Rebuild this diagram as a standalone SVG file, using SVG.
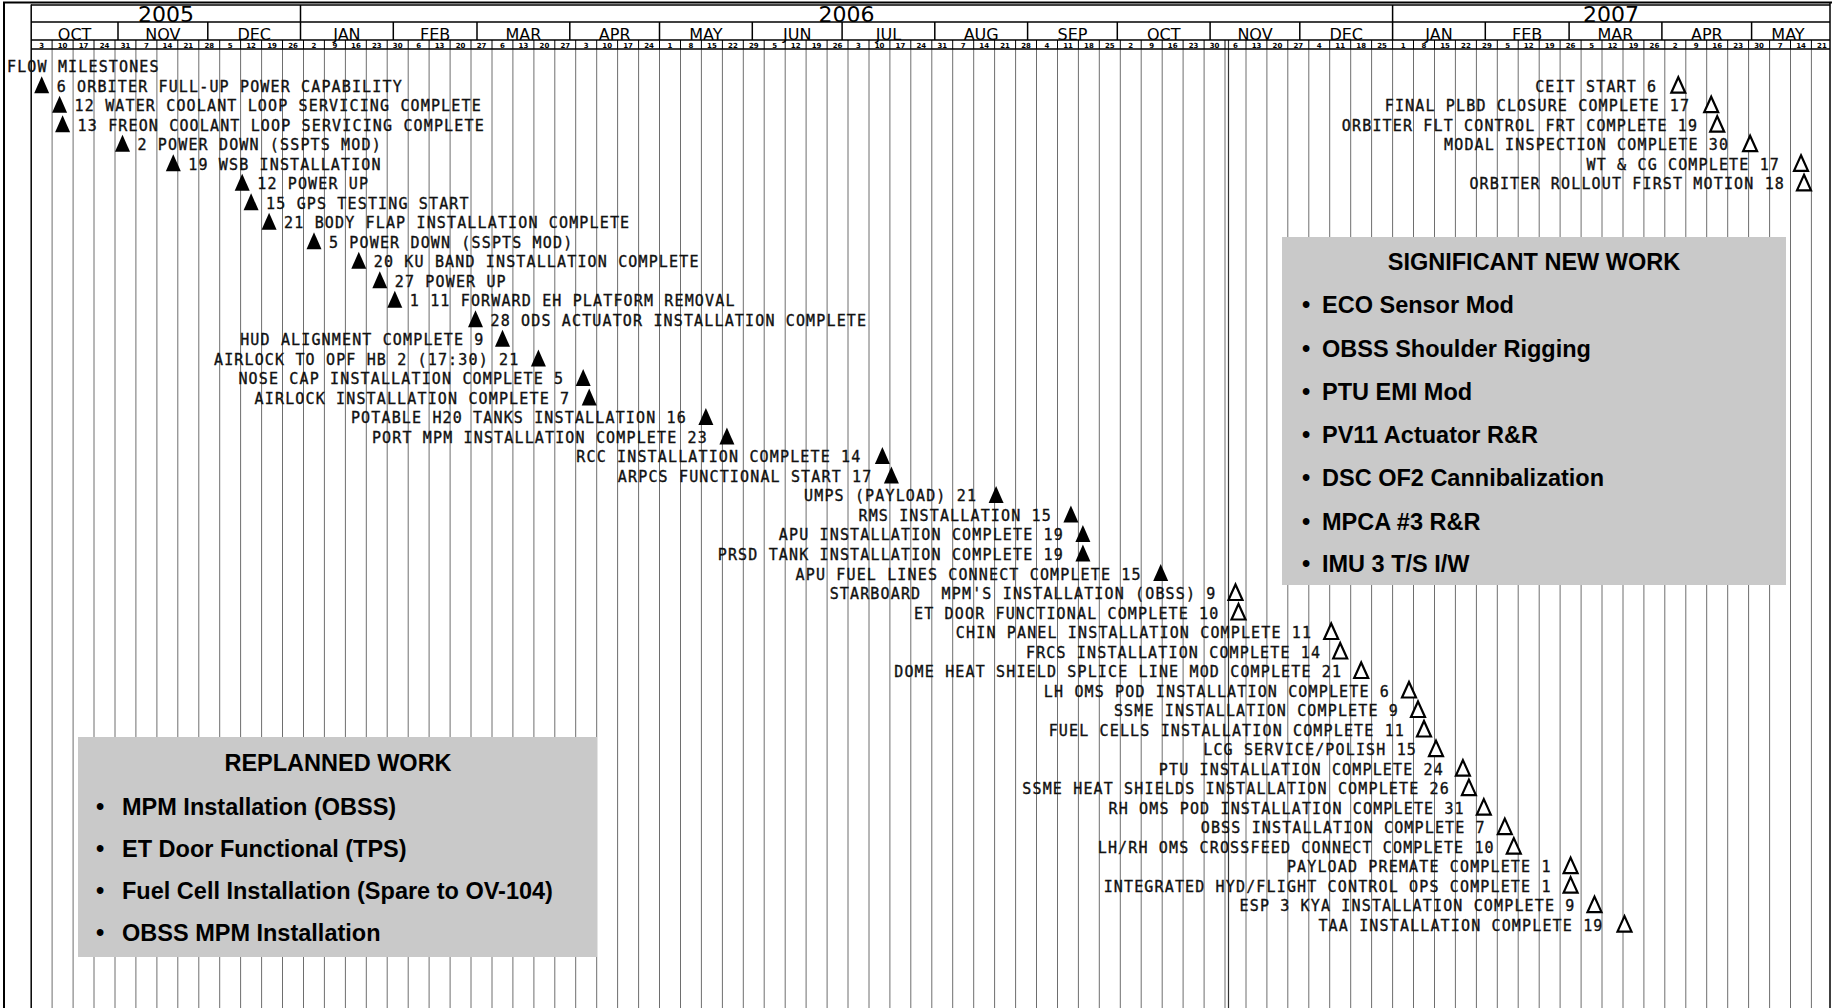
<svg xmlns="http://www.w3.org/2000/svg" xmlns:xlink="http://www.w3.org/1999/xlink" width="1834" height="1008" viewBox="0 0 1834 1008">
<style>
.ms{font-family:"DejaVu Sans Mono","Liberation Mono",monospace;font-size:15px;letter-spacing:1.15px;fill:#111;stroke:#111;stroke-width:0.35;white-space:pre}
.r{text-anchor:end}
.yr{font-family:"DejaVu Sans","Liberation Sans",sans-serif;font-size:22px;fill:#000;text-anchor:middle}
.mo{font-family:"DejaVu Sans","Liberation Sans",sans-serif;font-size:16px;fill:#000;text-anchor:middle}
.wk{font-family:"DejaVu Sans","Liberation Sans",sans-serif;font-size:7px;font-weight:bold;fill:#000;text-anchor:middle}
.bx{fill:#c9c9c9}
.bt{font-family:"Liberation Sans",Arial,sans-serif;font-size:23.5px;font-weight:bold;fill:#000}
.hd{stroke:#000;stroke-width:1.5;fill:none}
</style>
<defs>
<path id="tf" d="M0,-10 L7.5,7 L-7.5,7 Z" fill="#000"/>
<path id="th" d="M0,-9 L7,6.5 L-7,6.5 Z" fill="#fff" stroke="#000" stroke-width="2.2" stroke-linejoin="miter"/>
<path id="grid" d="M52.1 40V1008M73.1 40V1008M94 40V1008M115 40V1008M135.9 40V1008M156.9 40V1008M177.8 40V1008M198.8 40V1008M219.7 40V1008M240.6 40V1008M261.6 40V1008M282.5 40V1008M303.5 40V1008M324.4 40V1008M345.4 40V1008M366.3 40V1008M387.2 40V1008M408.2 40V1008M429.1 40V1008M450.1 40V1008M471 40V1008M492 40V1008M512.9 40V1008M533.9 40V1008M554.8 40V1008M575.7 40V1008M596.7 40V1008M617.6 40V1008M638.6 40V1008M659.5 40V1008M680.5 40V1008M701.4 40V1008M722.4 40V1008M743.3 40V1008M764.2 40V1008M785.2 40V1008M806.1 40V1008M827.1 40V1008M848 40V1008M869 40V1008M889.9 40V1008M910.8 40V1008M931.8 40V1008M952.7 40V1008M973.7 40V1008M994.6 40V1008M1015.6 40V1008M1036.5 40V1008M1057.5 40V1008M1078.4 40V1008M1099.3 40V1008M1120.3 40V1008M1141.2 40V1008M1162.2 40V1008M1183.1 40V1008M1204.1 40V1008M1225 40V1008M1246 40V1008M1266.9 40V1008M1287.8 40V1008M1308.8 40V1008M1329.7 40V1008M1350.7 40V1008M1371.6 40V1008M1392.6 40V1008M1413.5 40V1008M1434.5 40V1008M1455.4 40V1008M1476.4 40V1008M1497.3 40V1008M1518.2 40V1008M1539.2 40V1008M1560.1 40V1008M1581.1 40V1008M1602 40V1008M1623 40V1008M1643.9 40V1008M1664.8 40V1008M1685.8 40V1008M1706.7 40V1008M1727.7 40V1008M1748.6 40V1008M1769.6 40V1008M1790.5 40V1008M1811.4 40V1008"/>
<clipPath id="wkrow"><rect x="0" y="40" width="1834" height="9"/></clipPath>
<clipPath id="body"><rect x="0" y="49" width="1834" height="959"/></clipPath>
</defs>
<rect width="1834" height="1008" fill="#fff"/>

<g id="grid-lines">
<use href="#grid" stroke="#6e6e6e" stroke-width="1" clip-path="url(#body)"/>
<use href="#grid" stroke="#000" stroke-width="1" clip-path="url(#wkrow)"/>
<line x1="1228.5" y1="40" x2="1228.5" y2="1008" stroke="#333" stroke-width="1.2"/>
</g>

<g id="frame" class="hd">
<line x1="3" y1="2.5" x2="1832" y2="2.5" stroke-width="2"/>
<line x1="4" y1="2" x2="4" y2="1008" stroke-width="2"/>
<line x1="1830" y1="2" x2="1830" y2="1008"/>
<line x1="31.2" y1="4.5" x2="31.2" y2="1008"/>
<line x1="31" y1="5" x2="1830" y2="5"/>
<line x1="31" y1="22" x2="1830" y2="22"/>
<line x1="31" y1="40" x2="1830" y2="40"/>
<line x1="31" y1="49" x2="1830" y2="49"/>
<path d="M300.5 5V40M1392.6 5V40M118 22V40M207.8 22V40M393.3 22V40M477 22V40M569.8 22V40M659.5 22V40M752.3 22V40M842.1 22V40M934.8 22V40M1027.6 22V40M1117.3 22V40M1210.1 22V40M1299.8 22V40M1485.3 22V40M1569.1 22V40M1661.9 22V40M1751.6 22V40"/>
</g>

<g id="years">
<text class="yr" x="166" y="21.5">2005</text>
<text class="yr" x="846.5" y="21.5">2006</text>
<text class="yr" x="1611" y="21.5">2007</text>
</g>

<g id="months">
<text class="mo" x="74.6" y="39.5">OCT</text>
<text class="mo" x="162.9" y="39.5">NOV</text>
<text class="mo" x="254.2" y="39.5">DEC</text>
<text class="mo" x="346.9" y="39.5">JAN</text>
<text class="mo" x="435.2" y="39.5">FEB</text>
<text class="mo" x="523.4" y="39.5">MAR</text>
<text class="mo" x="614.7" y="39.5">APR</text>
<text class="mo" x="705.9" y="39.5">MAY</text>
<text class="mo" x="797.2" y="39.5">JUN</text>
<text class="mo" x="888.5" y="39.5">JUL</text>
<text class="mo" x="981.2" y="39.5">AUG</text>
<text class="mo" x="1072.5" y="39.5">SEP</text>
<text class="mo" x="1163.7" y="39.5">OCT</text>
<text class="mo" x="1255" y="39.5">NOV</text>
<text class="mo" x="1346.2" y="39.5">DEC</text>
<text class="mo" x="1439" y="39.5">JAN</text>
<text class="mo" x="1527.2" y="39.5">FEB</text>
<text class="mo" x="1615.5" y="39.5">MAR</text>
<text class="mo" x="1706.8" y="39.5">APR</text>
<text class="mo" x="1788" y="39.5">MAY</text>
</g>

<g id="weeks">
<text class="wk" x="41.7" y="47.5">3</text><text class="wk" x="62.6" y="47.5">10</text><text class="wk" x="83.6" y="47.5">17</text><text class="wk" x="104.5" y="47.5">24</text><text class="wk" x="125.5" y="47.5">31</text>
<text class="wk" x="146.4" y="47.5">7</text><text class="wk" x="167.4" y="47.5">14</text><text class="wk" x="188.3" y="47.5">21</text><text class="wk" x="209.3" y="47.5">28</text>
<text class="wk" x="230.2" y="47.5">5</text><text class="wk" x="251.1" y="47.5">12</text><text class="wk" x="272.1" y="47.5">19</text><text class="wk" x="293" y="47.5">26</text>
<text class="wk" x="314" y="47.5">2</text><text class="wk" x="334.9" y="47.5">9</text><text class="wk" x="355.9" y="47.5">16</text><text class="wk" x="376.8" y="47.5">23</text><text class="wk" x="397.7" y="47.5">30</text>
<text class="wk" x="418.7" y="47.5">6</text><text class="wk" x="439.6" y="47.5">13</text><text class="wk" x="460.6" y="47.5">20</text><text class="wk" x="481.5" y="47.5">27</text>
<text class="wk" x="502.5" y="47.5">6</text><text class="wk" x="523.4" y="47.5">13</text><text class="wk" x="544.4" y="47.5">20</text><text class="wk" x="565.3" y="47.5">27</text>
<text class="wk" x="586.2" y="47.5">3</text><text class="wk" x="607.2" y="47.5">10</text><text class="wk" x="628.1" y="47.5">17</text><text class="wk" x="649.1" y="47.5">24</text>
<text class="wk" x="670" y="47.5">1</text><text class="wk" x="691" y="47.5">8</text><text class="wk" x="711.9" y="47.5">15</text><text class="wk" x="732.9" y="47.5">22</text><text class="wk" x="753.8" y="47.5">29</text>
<text class="wk" x="774.7" y="47.5">5</text><text class="wk" x="795.7" y="47.5">12</text><text class="wk" x="816.6" y="47.5">19</text><text class="wk" x="837.6" y="47.5">26</text>
<text class="wk" x="858.5" y="47.5">3</text><text class="wk" x="879.5" y="47.5">10</text><text class="wk" x="900.4" y="47.5">17</text><text class="wk" x="921.3" y="47.5">24</text><text class="wk" x="942.3" y="47.5">31</text>
<text class="wk" x="963.2" y="47.5">7</text><text class="wk" x="984.2" y="47.5">14</text><text class="wk" x="1005.1" y="47.5">21</text><text class="wk" x="1026.1" y="47.5">28</text>
<text class="wk" x="1047" y="47.5">4</text><text class="wk" x="1068" y="47.5">11</text><text class="wk" x="1088.9" y="47.5">18</text><text class="wk" x="1109.8" y="47.5">25</text>
<text class="wk" x="1130.8" y="47.5">2</text><text class="wk" x="1151.7" y="47.5">9</text><text class="wk" x="1172.7" y="47.5">16</text><text class="wk" x="1193.6" y="47.5">23</text><text class="wk" x="1214.6" y="47.5">30</text>
<text class="wk" x="1235.5" y="47.5">6</text><text class="wk" x="1256.5" y="47.5">13</text><text class="wk" x="1277.4" y="47.5">20</text><text class="wk" x="1298.3" y="47.5">27</text>
<text class="wk" x="1319.3" y="47.5">4</text><text class="wk" x="1340.2" y="47.5">11</text><text class="wk" x="1361.2" y="47.5">18</text><text class="wk" x="1382.1" y="47.5">25</text>
<text class="wk" x="1403.1" y="47.5">1</text><text class="wk" x="1424" y="47.5">8</text><text class="wk" x="1445" y="47.5">15</text><text class="wk" x="1465.9" y="47.5">22</text><text class="wk" x="1486.9" y="47.5">29</text>
<text class="wk" x="1507.8" y="47.5">5</text><text class="wk" x="1528.7" y="47.5">12</text><text class="wk" x="1549.7" y="47.5">19</text><text class="wk" x="1570.6" y="47.5">26</text>
<text class="wk" x="1591.6" y="47.5">5</text><text class="wk" x="1612.5" y="47.5">12</text><text class="wk" x="1633.5" y="47.5">19</text><text class="wk" x="1654.4" y="47.5">26</text>
<text class="wk" x="1675.3" y="47.5">2</text><text class="wk" x="1696.3" y="47.5">9</text><text class="wk" x="1717.2" y="47.5">16</text><text class="wk" x="1738.2" y="47.5">23</text><text class="wk" x="1759.1" y="47.5">30</text>
<text class="wk" x="1780.1" y="47.5">7</text><text class="wk" x="1801" y="47.5">14</text><text class="wk" x="1821.9" y="47.5">21</text>
</g>

<g id="box-significant">
<rect class="bx" x="1282" y="237" width="504" height="348"/>
<text class="bt" x="1534" y="270" text-anchor="middle">SIGNIFICANT NEW WORK</text>
<text class="bt" x="1302" y="313">•</text><text class="bt" x="1322" y="313">ECO Sensor Mod</text>
<text class="bt" x="1302" y="356.5">•</text><text class="bt" x="1322" y="356.5">OBSS Shoulder Rigging</text>
<text class="bt" x="1302" y="400">•</text><text class="bt" x="1322" y="400">PTU EMI Mod</text>
<text class="bt" x="1302" y="443">•</text><text class="bt" x="1322" y="443">PV11 Actuator R&amp;R</text>
<text class="bt" x="1302" y="486">•</text><text class="bt" x="1322" y="486">DSC OF2 Cannibalization</text>
<text class="bt" x="1302" y="529.5">•</text><text class="bt" x="1322" y="529.5">MPCA #3 R&amp;R</text>
<text class="bt" x="1302" y="572">•</text><text class="bt" x="1322" y="572">IMU 3 T/S I/W</text>
</g>

<g id="box-replanned">
<rect class="bx" x="78" y="737" width="519" height="220"/>
<text class="bt" x="338" y="771" text-anchor="middle">REPLANNED WORK</text>
<text class="bt" x="96" y="815">•</text><text class="bt" x="122" y="815">MPM Installation (OBSS)</text>
<text class="bt" x="96" y="857">•</text><text class="bt" x="122" y="857">ET Door Functional (TPS)</text>
<text class="bt" x="96" y="899">•</text><text class="bt" x="122" y="899">Fuel Cell Installation (Spare to OV-104)</text>
<text class="bt" x="96" y="941">•</text><text class="bt" x="122" y="941">OBSS MPM Installation</text>
</g>

<g id="flow-title"><text class="ms" x="7" y="72">FLOW MILESTONES</text></g>

<g id="m01" transform="translate(41.7,86.2)"><use href="#tf"/><text class="ms" x="15" y="5.5">6 ORBITER FULL-UP POWER CAPABILITY</text></g>
<g id="m02" transform="translate(59.6,105.7)"><use href="#tf"/><text class="ms" x="15" y="5.5">12 WATER COOLANT LOOP SERVICING COMPLETE</text></g>
<g id="m03" transform="translate(62.6,125.2)"><use href="#tf"/><text class="ms" x="15" y="5.5">13 FREON COOLANT LOOP SERVICING COMPLETE</text></g>
<g id="m04" transform="translate(122.5,144.7)"><use href="#tf"/><text class="ms" x="15" y="5.5">2 POWER DOWN (SSPTS MOD)</text></g>
<g id="m05" transform="translate(173.3,164.3)"><use href="#tf"/><text class="ms" x="15" y="5.5">19 WSB INSTALLATION</text></g>
<g id="m06" transform="translate(242.2,183.8)"><use href="#tf"/><text class="ms" x="15" y="5.5">12 POWER UP</text></g>
<g id="m07" transform="translate(251.1,203.3)"><use href="#tf"/><text class="ms" x="15" y="5.5">15 GPS TESTING START</text></g>
<g id="m08" transform="translate(269.1,222.8)"><use href="#tf"/><text class="ms" x="15" y="5.5">21 BODY FLAP INSTALLATION COMPLETE</text></g>
<g id="m09" transform="translate(314,242.3)"><use href="#tf"/><text class="ms" x="15" y="5.5">5 POWER DOWN (SSPTS MOD)</text></g>
<g id="m10" transform="translate(358.8,261.8)"><use href="#tf"/><text class="ms" x="15" y="5.5">20 KU BAND INSTALLATION COMPLETE</text></g>
<g id="m11" transform="translate(379.8,281.3)"><use href="#tf"/><text class="ms" x="15" y="5.5">27 POWER UP</text></g>
<g id="m12" transform="translate(394.8,300.8)"><use href="#tf"/><text class="ms" x="15" y="5.5">1 11 FORWARD EH PLATFORM REMOVAL</text></g>
<g id="m13" transform="translate(475.5,320.3)"><use href="#tf"/><text class="ms" x="15" y="5.5">28 ODS ACTUATOR INSTALLATION COMPLETE</text></g>
<g id="m14" transform="translate(502.5,339.8)"><use href="#tf"/><text class="ms r" x="-18" y="5.5">HUD ALIGNMENT COMPLETE 9</text></g>
<g id="m15" transform="translate(538.4,359.4)"><use href="#tf"/><text class="ms r" x="-19" y="5.5">AIRLOCK TO OPF HB 2 (17:30) 21</text></g>
<g id="m16" transform="translate(583.2,378.9)"><use href="#tf"/><text class="ms r" x="-19" y="5.5">NOSE CAP INSTALLATION COMPLETE 5</text></g>
<g id="m17" transform="translate(589.2,398.4)"><use href="#tf"/><text class="ms r" x="-19" y="5.5">AIRLOCK INSTALLATION COMPLETE 7</text></g>
<g id="m18" transform="translate(705.9,417.9)"><use href="#tf"/><text class="ms r" x="-19" y="5.5">POTABLE H20 TANKS INSTALLATION 16</text></g>
<g id="m19" transform="translate(726.9,437.4)"><use href="#tf"/><text class="ms r" x="-19" y="5.5">PORT MPM INSTALLATION COMPLETE 23</text></g>
<g id="m20" transform="translate(882.4,456.9)"><use href="#tf"/><text class="ms r" x="-21" y="5.5">RCC INSTALLATION COMPLETE 14</text></g>
<g id="m21" transform="translate(891.4,476.4)"><use href="#tf"/><text class="ms r" x="-19" y="5.5">ARPCS FUNCTIONAL START 17</text></g>
<g id="m22" transform="translate(996.1,495.9)"><use href="#tf"/><text class="ms r" x="-19" y="5.5">UMPS (PAYLOAD) 21</text></g>
<g id="m23" transform="translate(1070.9,515.4)"><use href="#tf"/><text class="ms r" x="-19" y="5.5">RMS INSTALLATION 15</text></g>
<g id="m24" transform="translate(1082.9,534.9)"><use href="#tf"/><text class="ms r" x="-19" y="5.5">APU INSTALLATION COMPLETE 19</text></g>
<g id="m25" transform="translate(1082.9,554.5)"><use href="#tf"/><text class="ms r" x="-19" y="5.5">PRSD TANK INSTALLATION COMPLETE 19</text></g>
<g id="m26" transform="translate(1160.7,574)"><use href="#tf"/><text class="ms r" x="-19" y="5.5">APU FUEL LINES CONNECT COMPLETE 15</text></g>
<g id="m27" transform="translate(1235.5,593.5)"><use href="#th"/><text class="ms r" x="-19" y="5.5">STARBOARD  MPM'S INSTALLATION (OBSS) 9</text></g>
<g id="m28" transform="translate(1238.5,613)"><use href="#th"/><text class="ms r" x="-19" y="5.5">ET DOOR FUNCTIONAL COMPLETE 10</text></g>
<g id="m29" transform="translate(1331.2,632.5)"><use href="#th"/><text class="ms r" x="-19" y="5.5">CHIN PANEL INSTALLATION COMPLETE 11</text></g>
<g id="m30" transform="translate(1340.2,652)"><use href="#th"/><text class="ms r" x="-19" y="5.5">FRCS INSTALLATION COMPLETE 14</text></g>
<g id="m31" transform="translate(1361.2,671.5)"><use href="#th"/><text class="ms r" x="-19" y="5.5">DOME HEAT SHIELD SPLICE LINE MOD COMPLETE 21</text></g>
<g id="m32" transform="translate(1409,691)"><use href="#th"/><text class="ms r" x="-19" y="5.5">LH OMS POD INSTALLATION COMPLETE 6</text></g>
<g id="m33" transform="translate(1418,710.5)"><use href="#th"/><text class="ms r" x="-19" y="5.5">SSME INSTALLATION COMPLETE 9</text></g>
<g id="m34" transform="translate(1424,730)"><use href="#th"/><text class="ms r" x="-19" y="5.5">FUEL CELLS INSTALLATION COMPLETE 11</text></g>
<g id="m35" transform="translate(1436,749.6)"><use href="#th"/><text class="ms r" x="-19" y="5.5">LCG SERVICE/POLISH 15</text></g>
<g id="m36" transform="translate(1462.9,769.1)"><use href="#th"/><text class="ms r" x="-19" y="5.5">PTU INSTALLATION COMPLETE 24</text></g>
<g id="m37" transform="translate(1468.9,788.6)"><use href="#th"/><text class="ms r" x="-19" y="5.5">SSME HEAT SHIELDS INSTALLATION COMPLETE 26</text></g>
<g id="m38" transform="translate(1483.8,808.1)"><use href="#th"/><text class="ms r" x="-19" y="5.5">RH OMS POD INSTALLATION COMPLETE 31</text></g>
<g id="m39" transform="translate(1504.8,827.6)"><use href="#th"/><text class="ms r" x="-19" y="5.5">OBSS INSTALLATION COMPLETE 7</text></g>
<g id="m40" transform="translate(1513.8,847.1)"><use href="#th"/><text class="ms r" x="-19" y="5.5">LH/RH OMS CROSSFEED CONNECT COMPLETE 10</text></g>
<g id="m41" transform="translate(1570.6,866.6)"><use href="#th"/><text class="ms r" x="-19" y="5.5">PAYLOAD PREMATE COMPLETE 1</text></g>
<g id="m42" transform="translate(1570.6,886.1)"><use href="#th"/><text class="ms r" x="-19" y="5.5">INTEGRATED HYD/FLIGHT CONTROL OPS COMPLETE 1</text></g>
<g id="m43" transform="translate(1594.5,905.6)"><use href="#th"/><text class="ms r" x="-19" y="5.5">ESP 3 KYA INSTALLATION COMPLETE 9</text></g>
<g id="m44" transform="translate(1624.5,925.1)"><use href="#th"/><text class="ms r" x="-21" y="5.5">TAA INSTALLATION COMPLETE 19</text></g>

<g id="t1" transform="translate(1678.3,86.2)"><use href="#th"/><text class="ms r" x="-21" y="5.5">CEIT START 6</text></g>
<g id="t2" transform="translate(1711.2,105.7)"><use href="#th"/><text class="ms r" x="-21" y="5.5">FINAL PLBD CLOSURE COMPLETE 17</text></g>
<g id="t3" transform="translate(1717.2,125.2)"><use href="#th"/><text class="ms r" x="-19" y="5.5">ORBITER FLT CONTROL FRT COMPLETE 19</text></g>
<g id="t4" transform="translate(1750.1,144.7)"><use href="#th"/><text class="ms r" x="-21" y="5.5">MODAL INSPECTION COMPLETE 30</text></g>
<g id="t5" transform="translate(1801,164.3)"><use href="#th"/><text class="ms r" x="-21" y="5.5">WT &amp; CG COMPLETE 17</text></g>
<g id="t6" transform="translate(1804,183.8)"><use href="#th"/><text class="ms r" x="-19" y="5.5">ORBITER ROLLOUT FIRST MOTION 18</text></g>
</svg>
